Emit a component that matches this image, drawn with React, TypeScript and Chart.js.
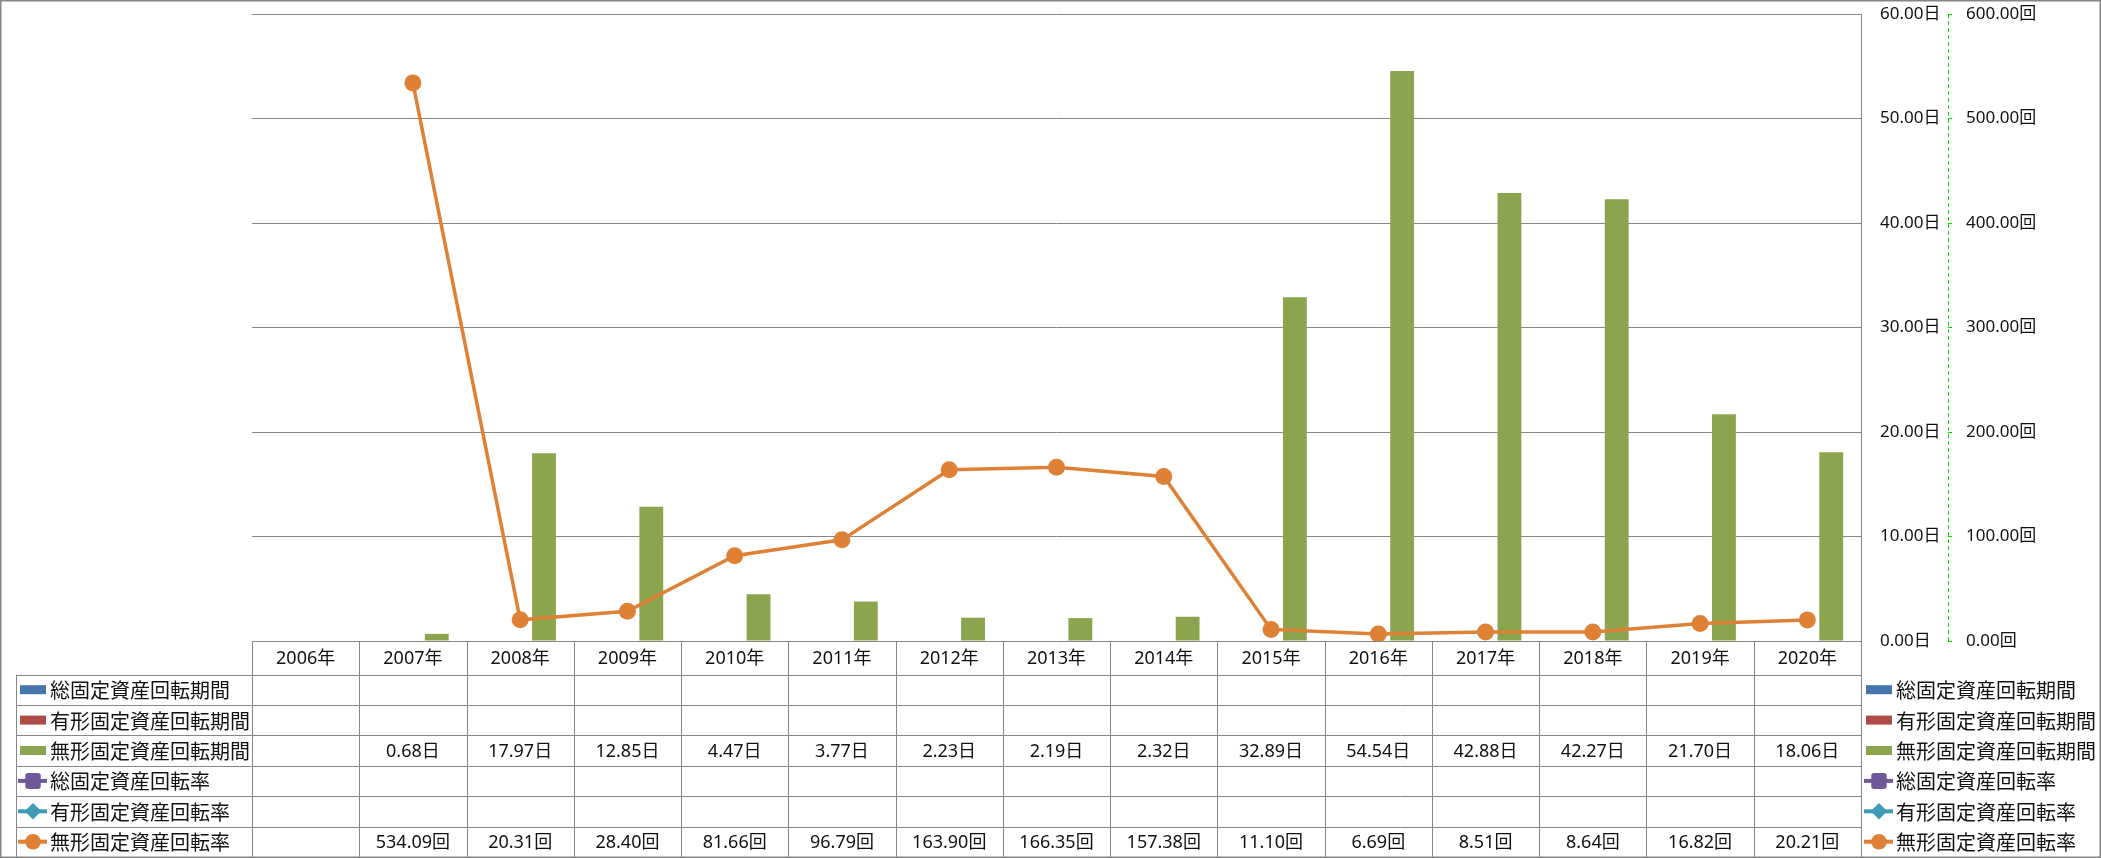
import React, { useEffect, useRef } from 'react';
import { Chart, registerables } from 'chart.js';

Chart.register(...registerables);

// ---------- data ----------
const years: string[] = [
  '2006年', '2007年', '2008年', '2009年', '2010年', '2011年', '2012年', '2013年',
  '2014年', '2015年', '2016年', '2017年', '2018年', '2019年', '2020年',
];

const seriesNames: string[] = [
  '総固定資産回転期間',
  '有形固定資産回転期間',
  '無形固定資産回転期間',
  '総固定資産回転率',
  '有形固定資産回転率',
  '無形固定資産回転率',
];

const totalPeriod: (number | null)[] = [null, null, null, null, null, null, null, null, null, null, null, null, null, null, null];
const tangiblePeriod: (number | null)[] = [null, null, null, null, null, null, null, null, null, null, null, null, null, null, null];
const intangiblePeriod: (number | null)[] = [null, 0.68, 17.97, 12.85, 4.47, 3.77, 2.23, 2.19, 2.32, 32.89, 54.54, 42.88, 42.27, 21.70, 18.06];
const totalRate: (number | null)[] = [null, null, null, null, null, null, null, null, null, null, null, null, null, null, null];
const tangibleRate: (number | null)[] = [null, null, null, null, null, null, null, null, null, null, null, null, null, null, null];
const intangibleRate: (number | null)[] = [null, 534.09, 20.31, 28.40, 81.66, 96.79, 163.90, 166.35, 157.38, 11.10, 6.69, 8.51, 8.64, 16.82, 20.21];

const periodAxis = { min: 0, max: 60, step: 10, unit: '日' };
const rateAxis = { min: 0, max: 600, step: 100, unit: '回' };

// ---------- style ----------
const BLUE = '#4675AB';
const RED = '#AE4B48';
const GREEN = '#8BA54E';
const PURPLE = '#71589B';
const AQUA = '#3F9BB6';
const ORANGE = '#DE8136';
const GRID = '#868686';
const AXIS_GREEN = '#00DD00';
const TEXT = '#111111';
const NUM_FONT = '"Noto Sans", "Noto Sans CJK JP", sans-serif';
const CJK_FONT = '"Noto Sans CJK JP", sans-serif';

type KeyKind = { kind: 'bar' | 'line'; color: string; marker?: 'rect' | 'diamond' | 'circle' };
const keys: KeyKind[] = [
  { kind: 'bar', color: BLUE },
  { kind: 'bar', color: RED },
  { kind: 'bar', color: GREEN },
  { kind: 'line', color: PURPLE, marker: 'rect' },
  { kind: 'line', color: AQUA, marker: 'diamond' },
  { kind: 'line', color: ORANGE, marker: 'circle' },
];
const rowValues: (number | null)[][] = [totalPeriod, tangiblePeriod, intangiblePeriod, totalRate, tangibleRate, intangibleRate];
const rowUnits: string[] = ['日', '日', '日', '回', '回', '回'];

const W = 2101;
const H = 858;
const HEADER_BOTTOM = 674.5;
const ROW_H = 30.4;

function drawKey(ctx: CanvasRenderingContext2D, k: KeyKind, x0: number, cy: number) {
  if (k.kind === 'bar') {
    ctx.fillStyle = k.color;
    ctx.fillRect(x0 + 2, cy - 4.5, 26, 9);
    return;
  }
  ctx.strokeStyle = k.color;
  ctx.lineWidth = 4;
  ctx.beginPath();
  ctx.moveTo(x0, cy);
  ctx.lineTo(x0 + 29, cy);
  ctx.stroke();
  ctx.fillStyle = k.color;
  const cx = x0 + 15;
  if (k.marker === 'rect') {
    ctx.beginPath();
    const rw = 15.5, rh = 16;
    const r = 3;
    const lx = cx - rw / 2, ty = cy - rh / 2;
    ctx.moveTo(lx + r, ty);
    ctx.arcTo(lx + rw, ty, lx + rw, ty + rh, r);
    ctx.arcTo(lx + rw, ty + rh, lx, ty + rh, r);
    ctx.arcTo(lx, ty + rh, lx, ty, r);
    ctx.arcTo(lx, ty, lx + rw, ty, r);
    ctx.closePath();
    ctx.fill();
  } else if (k.marker === 'diamond') {
    ctx.beginPath();
    ctx.moveTo(cx, cy - 8.3);
    ctx.lineTo(cx + 8.3, cy);
    ctx.lineTo(cx, cy + 8.3);
    ctx.lineTo(cx - 8.3, cy);
    ctx.closePath();
    ctx.fill();
  } else {
    ctx.beginPath();
    ctx.arc(cx, cy, 7.8, 0, Math.PI * 2);
    ctx.fill();
  }
}

const tablePlugin = {
  id: 'dataTable',
  afterDraw(chart: any) {
    const ctx: CanvasRenderingContext2D = chart.ctx;
    const xs = chart.scales.x;
    const y2 = chart.scales.y2;
    const area = chart.chartArea;
    const n = years.length;
    const cw = xs.getPixelForValue(1) - xs.getPixelForValue(0);
    const tableBottom = HEADER_BOTTOM + ROW_H * 6;
    ctx.save();

    // dashed secondary axis line
    ctx.strokeStyle = AXIS_GREEN;
    ctx.lineWidth = 1;
    ctx.setLineDash([4, 3]);
    ctx.beginPath();
    const ax = Math.round(y2.left) + 0.5;
    ctx.moveTo(ax, area.top);
    ctx.lineTo(ax, area.bottom);
    ctx.stroke();
    ctx.setLineDash([]);

    // grid lines of table
    ctx.strokeStyle = GRID;
    ctx.lineWidth = 1;
    ctx.beginPath();
    for (let i = 0; i <= n; i++) {
      const bx = Math.round(xs.getPixelForValue(i) - cw / 2) + 0.5;
      ctx.moveTo(bx, area.bottom);
      ctx.lineTo(bx, i === n ? H - 1 : tableBottom);
    }
    for (let r = 0; r <= 6; r++) {
      const yy = Math.round(HEADER_BOTTOM + r * ROW_H) + 0.5;
      ctx.moveTo(16, yy);
      ctx.lineTo(Math.round(area.right) + 1, yy);
    }
    ctx.moveTo(16.5, HEADER_BOTTOM);
    ctx.lineTo(16.5, tableBottom);
    ctx.stroke();

    // header year labels
    ctx.fillStyle = TEXT;
    ctx.textAlign = 'center';
    ctx.textBaseline = 'middle';
    ctx.font = `18px ${NUM_FONT}`;
    for (let i = 0; i < n; i++) {
      ctx.fillText(years[i], xs.getPixelForValue(i), (area.bottom + HEADER_BOTTOM) / 2 + 1);
    }

    // values
    for (let r = 0; r < 6; r++) {
      const cy = HEADER_BOTTOM + (r + 0.5) * ROW_H + 1;
      const vals = rowValues[r];
      for (let i = 0; i < n; i++) {
        const v = vals[i];
        if (v === null || v === undefined) continue;
        ctx.fillText(`${v.toFixed(2)}${rowUnits[r]}`, xs.getPixelForValue(i), cy);
      }
    }

    // row labels with keys (left) and legend (right)
    ctx.textAlign = 'left';
    ctx.font = `20px ${CJK_FONT}`;
    for (let r = 0; r < 6; r++) {
      const cy = HEADER_BOTTOM + (r + 0.5) * ROW_H;
      drawKey(ctx, keys[r], 18, cy);
      ctx.fillStyle = TEXT;
      ctx.fillText(seriesNames[r], 50, cy + 1);
      drawKey(ctx, keys[r], 1864, cy);
      ctx.fillStyle = TEXT;
      ctx.fillText(seriesNames[r], 1896, cy + 1);
    }

    // outer frame
    ctx.strokeStyle = GRID;
    ctx.lineWidth = 1.5;
    ctx.strokeRect(0.75, 0.75, W - 1.5, H - 1.5);
    ctx.restore();
  },
};

export default function App() {
  const ref = useRef<HTMLCanvasElement | null>(null);

  useEffect(() => {
    document.body.style.margin = '0';
    const canvas = ref.current;
    if (!canvas) return;
    const chart = new Chart(canvas, {
      type: 'bar',
      data: {
        labels: years,
        datasets: [
          { type: 'bar', label: seriesNames[0], data: totalPeriod, backgroundColor: BLUE, yAxisID: 'y', order: 2, categoryPercentage: 0.667, barPercentage: 1 },
          { type: 'bar', label: seriesNames[1], data: tangiblePeriod, backgroundColor: RED, yAxisID: 'y', order: 2, categoryPercentage: 0.667, barPercentage: 1 },
          { type: 'bar', label: seriesNames[2], data: intangiblePeriod, backgroundColor: GREEN, yAxisID: 'y', order: 2, categoryPercentage: 0.667, barPercentage: 1 },
          { type: 'line', label: seriesNames[3], data: totalRate, borderColor: PURPLE, backgroundColor: PURPLE, yAxisID: 'y2', order: 1 },
          { type: 'line', label: seriesNames[4], data: tangibleRate, borderColor: AQUA, backgroundColor: AQUA, yAxisID: 'y2', order: 1 },
          {
            type: 'line', label: seriesNames[5], data: intangibleRate, yAxisID: 'y2', order: 0,
            borderColor: ORANGE, backgroundColor: ORANGE, borderWidth: 3.5, tension: 0,
            pointRadius: 8.5, pointBackgroundColor: ORANGE, pointBorderWidth: 0, pointStyle: 'circle',
          },
        ] as any,
      },
      options: {
        animation: false,
        responsive: false,
        devicePixelRatio: 1,
        layout: { padding: { left: 252, top: 14, right: 0, bottom: H - 641 } },
        plugins: { legend: { display: false }, tooltip: { enabled: false } },
        scales: {
          x: { type: 'category', display: false, offset: true },
          y: {
            position: 'right',
            min: periodAxis.min,
            max: periodAxis.max,
            grid: { color: GRID, lineWidth: 1, drawTicks: false },
            border: { display: true, color: GRID, width: 1 },
            ticks: {
              stepSize: periodAxis.step,
              padding: 19,
              color: TEXT,
              font: { family: NUM_FONT, size: 17 },
              callback: (v: any) => `${Number(v).toFixed(2)}${periodAxis.unit}`,
            },
            afterFit: (s: any) => { s.width = 87; s.paddingTop = 0; s.paddingBottom = 0; },
          },
          y2: {
            position: 'right',
            min: rateAxis.min,
            max: rateAxis.max,
            grid: { drawOnChartArea: false, drawTicks: true, tickLength: 4, color: AXIS_GREEN },
            border: { display: false },
            ticks: {
              stepSize: rateAxis.step,
              padding: 14,
              color: TEXT,
              font: { family: NUM_FONT, size: 17 },
              callback: (v: any) => `${Number(v).toFixed(2)}${rateAxis.unit}`,
            },
            afterFit: (s: any) => { s.width = W - 1861 - 87; s.paddingTop = 0; s.paddingBottom = 0; },
          },
        },
      } as any,
      plugins: [tablePlugin],
    });
    return () => chart.destroy();
  }, []);

  return <canvas ref={ref} width={W} height={H} style={{ display: 'block', width: W, height: H }} />;
}
